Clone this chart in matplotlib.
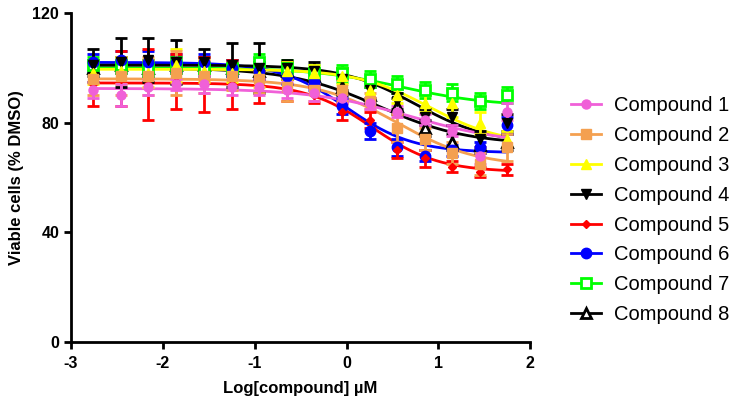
import numpy as np
import matplotlib
matplotlib.use("Agg")
import matplotlib.pyplot as plt

plt.rcParams['font.family'] = ['Liberation Sans', 'DejaVu Sans']
plt.rcParams['axes.unicode_minus'] = False

# log concentrations (2-fold dilution series)
log_conc = [-2.76, -2.46, -2.16, -1.86, -1.55, -1.25, -0.95, -0.65,
            -0.35, -0.05, 0.25, 0.55, 0.85, 1.15, 1.45, 1.75]

names = ['Compound 1', 'Compound 2', 'Compound 3', 'Compound 4',
         'Compound 5', 'Compound 6', 'Compound 7', 'Compound 8']

# mean viable cells (% DMSO)
c1 = [92, 90, 93, 94, 94, 93, 93, 92, 91, 89, 87, 84, 81, 77, 68, 84]
c2 = [96, 97, 97, 98, 97, 97, 96, 93, 92, 92, 88, 78, 74, 69, 65, 71]
c3 = [98, 99, 98, 101, 99, 98, 97, 99, 98, 97, 92, 90, 87, 87, 80, 74]
c4 = [101, 102, 103, 102, 102, 101, 100, 100, 99, 96, 92, 88, 82, 82, 74, 80]
c5 = [94, 96, 94, 95, 94, 94, 93, 92, 90, 84, 81, 70, 67, 64, 62, 63]
c6 = [102, 103, 102, 102, 102, 100, 99, 97, 95, 86, 77, 71, 68, 70, 71, 79]
c7 = [101, 101, 100, 101, 100, 100, 102, 100, 98, 98, 96, 94, 92, 91, 88, 90]
c8 = [100, 101, 100, 101, 101, 100, 99, 99, 97, 93, 90, 86, 78, 73, 72, 73]

# standard deviations
sd1 = [3, 4, 3, 2, 3, 3, 3, 3, 3, 2, 2, 2, 2, 2, 3, 3]
sd2 = [6, 7, 7, 8, 6, 5, 5, 5, 4, 4, 3, 5, 4, 4, 4, 5]
sd3 = [4, 5, 5, 6, 4, 3, 4, 3, 3, 3, 3, 3, 3, 5, 4, 3]
sd4 = [6, 9, 8, 8, 5, 8, 9, 3, 3, 4, 3, 3, 3, 3, 3, 3]
sd5 = [8, 10, 13, 10, 10, 9, 6, 4, 3, 3, 3, 3, 3, 2, 2, 2]
sd6 = [3, 3, 4, 3, 3, 3, 3, 3, 3, 3, 3, 3, 2, 2, 2, 3]
sd7 = [3, 3, 3, 3, 2, 3, 3, 3, 3, 3, 3, 3, 3, 3, 3, 3]
sd8 = [3, 3, 3, 3, 3, 3, 3, 3, 3, 3, 3, 3, 3, 3, 3, 3]

# fitted dose-response parameters: top, bottom, logIC50, hill slope
tops = [92.5, 96, 99.5, 101, 94.5, 102, 100, 100]
bottoms = [72, 64, 72, 72.5, 62, 69, 86, 72]
log_ic50 = [0.7, 0.55, 0.9, 0.75, 0.28, 0.0, 0.6, 0.35]
hills = [0.8, 1.0, 1.1, 1.1, 1.2, 1.2, 0.9, 0.9]

means = [c1, c2, c3, c4, c5, c6, c7, c8]
sds = [sd1, sd2, sd3, sd4, sd5, sd6, sd7, sd8]

colors = ['#F060D8', '#F4A050', '#FFFF00', '#000000',
          '#FF0000', '#0000FF', '#00FF00', '#000000']
markers = ['o', 's', '^', 'v', 'D', 'o', 's', '^']
msizes = [6.5, 6.5, 7, 7, 4.5, 7.5, 6.5, 6.5]
faces = ['#F060D8', '#F4A050', '#FFFF00', '#000000',
         '#FF0000', '#0000FF', 'white', 'white']

fig = plt.figure(figsize=(7.29, 4.08), dpi=100)
ax = fig.add_axes([0.0974, 0.162, 0.63, 0.806])

xs = np.linspace(log_conc[0], log_conc[-1], 200)
handles = []
for i in reversed(range(8)):
    y = bottoms[i] + (tops[i] - bottoms[i]) / (1 + 10 ** ((xs - log_ic50[i]) * hills[i]))
    ax.plot(xs, y, color=colors[i], lw=2, zorder=2 + (8 - i) * 0.1)
    ax.errorbar(log_conc, means[i], yerr=sds[i], fmt='none', ecolor=colors[i],
                elinewidth=2, capsize=4, capthick=2, zorder=3 + (8 - i) * 0.1)
    ax.plot(log_conc, means[i], ls='none', marker=markers[i], ms=msizes[i],
            mfc=faces[i], mec=colors[i], mew=2 if faces[i] == 'white' else 1,
            zorder=4 + (8 - i) * 0.1)

for i in range(8):
    h, = ax.plot([], [], color=colors[i], lw=2, marker=markers[i], ms=msizes[i],
                 mfc=faces[i], mec=colors[i], mew=2 if faces[i] == 'white' else 1)
    handles.append(h)

ax.set_xlim(-3, 2)
ax.set_ylim(0, 120)
ax.set_xticks([-3, -2, -1, 0, 1, 2])
ax.set_yticks([0, 40, 80, 120])
for s in ['top', 'right']:
    ax.spines[s].set_visible(False)
for s in ['left', 'bottom']:
    ax.spines[s].set_linewidth(2)
ax.tick_params(width=2, length=5, labelsize=11.5)
ax.tick_params(axis='x', pad=5)
for lab in ax.get_xticklabels() + ax.get_yticklabels():
    lab.set_fontweight('bold')

ax.set_xlabel('Log[compound] µM', fontsize=12, fontweight='bold', labelpad=7)
ax.set_ylabel('Viable cells (% DMSO)', fontsize=12, fontweight='bold', labelpad=6)

fig.legend(handles, names, loc='center left', bbox_to_anchor=(0.758, 0.485),
           frameon=False, fontsize=14.5, handlelength=1.5, handletextpad=0.65,
           labelspacing=0.54)

fig.savefig('out.png', dpi=100)
